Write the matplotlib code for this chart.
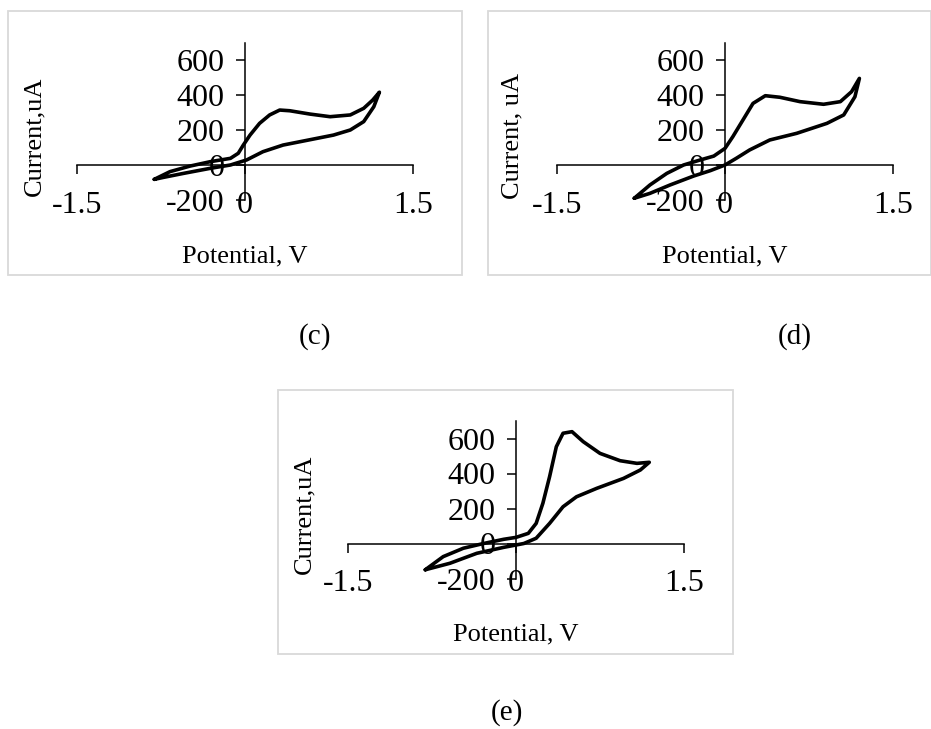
import matplotlib
matplotlib.use("Agg")
import matplotlib.pyplot as plt
from matplotlib.patches import Rectangle

plt.rcParams['font.family'] = ['Liberation Serif', 'DejaVu Serif']

# ---- data ----
c_V = [-0.81, -0.67, -0.49, -0.31, -0.13, -0.06, -0.015, 0.045, 0.13, 0.22, 0.31, 0.40, 0.58, 0.76,
       0.94, 1.06, 1.14, 1.20, 1.15, 1.06, 0.94, 0.79, 0.64, 0.34, 0.16, 0.015, -0.13, -0.31,
       -0.55, -0.73, -0.81]
c_I = [-82, -38, -6, 19, 38, 67, 114, 171, 238, 286, 314, 310, 291, 276,
       286, 324, 371, 416, 333, 248, 200, 171, 152, 114, 76, 29, 0, -19,
       -48, -71, -82]

d_V = [-0.81, -0.67, -0.52, -0.37, -0.22, -0.10, 0.0, 0.07, 0.16, 0.25, 0.36, 0.49, 0.67, 0.88,
       1.03, 1.13, 1.20, 1.16, 1.06, 0.91, 0.64, 0.40, 0.22, 0.10, 0.0, -0.13, -0.28, -0.49,
       -0.67, -0.81]
d_I = [-190, -114, -48, 0, 29, 51, 95, 162, 257, 352, 396, 387, 362, 347,
       362, 419, 495, 390, 286, 238, 181, 143, 86, 38, 0, -32, -63, -114,
       -162, -190]

e_V = [-0.81, -0.65, -0.47, -0.29, -0.11, 0.0, 0.11, 0.18, 0.24, 0.30, 0.36, 0.42, 0.50, 0.60,
       0.75, 0.93, 1.08, 1.19, 1.11, 0.96, 0.72, 0.54, 0.42, 0.30, 0.18, 0.07, -0.11, -0.35,
       -0.59, -0.81]
e_I = [-150, -75, -27, 0, 24, 35, 58, 115, 230, 382, 553, 630, 639, 582,
       515, 473, 458, 464, 420, 372, 315, 267, 210, 115, 30, 0, -22, -56,
       -113, -150]

x_ticks = [-1.5, 0, 1.5]
x_tick_labels = ["-1.5", "0", "1.5"]
y_ticks = [-200, 0, 200, 400, 600]
y_tick_labels = ["-200", "0", "200", "400", "600"]

W, H = 931, 729
fig = plt.figure(figsize=(W / 100, H / 100), dpi=100)

def fx(px):
    return px / W

def fy(py):
    return 1 - py / H

TICK_FS = 23
LABEL_FS = 19
TAG_FS = 21

panels = [
    # V, I, origin px (x0, y0), frame (l, t, r, b), ylabel, ylabel x, tag, tag pos
    (c_V, c_I, (245, 165), (8, 11, 462, 275), "Current,uA", 34, "(c)", (315, 337)),
    (d_V, d_I, (725, 165), (488, 11, 931, 275), "Current, uA", 512, "(d)", (795, 337)),
    (e_V, e_I, (516, 543.5), (278, 390, 733, 654), "Current,uA", 304, "(e)", (507, 713)),
]

for V, I, (x0, y0), (l, t, r, b), ylab, ylx, tag, (tx, ty) in panels:
    fig.patches.append(Rectangle((fx(l), fy(b)), fx(r) - fx(l), fy(t) - fy(b),
                                 transform=fig.transFigure, fill=False,
                                 edgecolor='#d9d9d9', lw=1.3))
    ax = fig.add_axes([fx(x0 - 168), fy(y0 + 35), 336 / W, 157.5 / H])
    ax.set_xlim(-1.5, 1.5)
    ax.set_ylim(-200, 700)
    ax.patch.set_alpha(0)
    ax.plot(V, I, color='black', lw=2.6, solid_joinstyle='round', solid_capstyle='round')
    for s in ['top', 'right']:
        ax.spines[s].set_visible(False)
    ax.spines['left'].set_position(('data', 0))
    ax.spines['bottom'].set_position(('data', 0))
    for s in ['left', 'bottom']:
        ax.spines[s].set_linewidth(1.1)
    ax.set_xticks(x_ticks)
    ax.set_xticklabels(x_tick_labels)
    ax.set_yticks(y_ticks)
    ax.set_yticklabels(y_tick_labels)
    ax.tick_params(axis='x', direction='out', length=6.5, width=1.1, pad=12, labelsize=TICK_FS)
    ax.tick_params(axis='y', direction='out', length=6.5, width=1.1, pad=8, labelsize=TICK_FS)
    fig.text(fx(x0), fy(y0 + 91), "Potential, V", ha='center', va='center', fontsize=LABEL_FS)
    fig.text(fx(ylx), fy(y0 - 29), ylab, ha='center', va='center', rotation=90, fontsize=LABEL_FS)
    fig.text(fx(tx), fy(ty), tag, ha='center', va='center', fontsize=TAG_FS)

fig.savefig("out.png", dpi=100)
